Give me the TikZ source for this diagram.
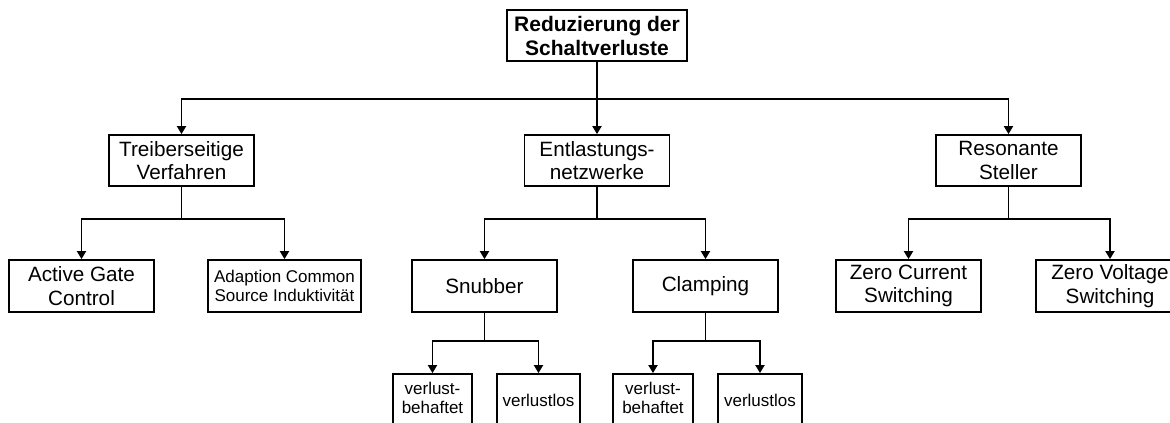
\documentclass[tikz,border=0pt]{standalone}
\usepackage{fontspec}
\setmainfont{Liberation Sans}
\usetikzlibrary{arrows.meta}
\begin{document}
\begin{tikzpicture}[x=1pt,y=-1pt,
  box/.style={draw,line width=1.8pt,inner sep=0pt,minimum width=145pt,minimum height=51pt,align=center,font=\fontsize{20.7}{23.5}\selectfont},
  smallbox/.style={box,font=\fontsize{17}{19.5}\selectfont},
  conn/.style={line width=1.8pt},
  arr/.style={conn,-{Triangle[length=8pt,width=9pt]}}]
\useasboundingbox (0,0) rectangle (1170,423);
\clip (0,0) rectangle (1170,423);
\fill[white] (0,0) rectangle (1170,423);
% nodes
\node[box,minimum width=180pt,font=\bfseries\fontsize{21}{24}\selectfont] (top) at (597,35.5) {Reduzierung der\\Schaltverluste};
\node[box] (treib) at (181.5,160.5) {Treiberseitige\\Verfahren};
\node[box] (entl) at (597,160.5) {Entlastungs-\\netzwerke};
\node[box] (reson) at (1008.5,160.5) {Resonante\\Steller};
\node[box,minimum height=52pt] (agc) at (81.5,286) {Active Gate\\Control};
\node[smallbox,minimum width=153pt,minimum height=52pt] (adapt) at (284.5,286) {Adaption Common\\Source Induktivität};
\node[box,minimum height=52pt] (snub) at (484.5,286) {Snubber};
\node[box,minimum height=52pt] (clamp) at (705.5,286) {Clamping};
\node[box,minimum height=52pt] (zcs) at (908.5,286) {Zero Current\\Switching};
\node[box,minimum width=148pt,minimum height=52pt] (zvs) at (1110,286) {Zero Voltage\\Switching};
\node[smallbox,minimum width=79pt,minimum height=60pt] (vb1) at (432.5,404) {};
\node[smallbox,minimum width=83pt,minimum height=60pt] (vl1) at (538.5,404) {};
\node[smallbox,minimum width=80pt,minimum height=60pt] (vb2) at (653,404) {};
\node[smallbox,minimum width=84pt,minimum height=60pt] (vl2) at (760,404) {};
\node[align=center,font=\fontsize{17}{19.5}\selectfont,inner sep=0pt] (vb1t) at (432.5,398) {verlust-\\behaftet};
\node[align=center,font=\fontsize{17}{19.5}\selectfont,inner sep=0pt] (vl1t) at (538.5,400) {verlustlos};
\node[align=center,font=\fontsize{17}{19.5}\selectfont,inner sep=0pt] (vb2t) at (653,398) {verlust-\\behaftet};
\node[align=center,font=\fontsize{17}{19.5}\selectfont,inner sep=0pt] (vl2t) at (760,400) {verlustlos};
% branch points
\coordinate (b0) at (597,99);
\coordinate (b1) at (181.5,219);
\coordinate (b2) at (597,219);
\coordinate (b3) at (1008.5,219);
\coordinate (b4) at (484.5,341);
\coordinate (b5) at (705.5,341);
% connectors
\draw[conn] (top.south) -- (b0);
\draw[arr] (b0) -| (treib.north);
\draw[arr] (b0) -- (entl.north);
\draw[arr] (b0) -| (reson.north);
\draw[conn] (treib.south) -- (b1);
\draw[arr] (b1) -| (agc.north);
\draw[arr] (b1) -| (adapt.north);
\draw[conn] (entl.south) -- (b2);
\draw[arr] (b2) -| (snub.north);
\draw[arr] (b2) -| (clamp.north);
\draw[conn] (reson.south) -- (b3);
\draw[arr] (b3) -| (zcs.north);
\draw[arr] (b3) -| (zvs.north);
\draw[conn] (snub.south) -- (b4);
\draw[arr] (b4) -| (vb1.north);
\draw[arr] (b4) -| (vl1.north);
\draw[conn] (clamp.south) -- (b5);
\draw[arr] (b5) -| (vb2.north);
\draw[arr] (b5) -| (vl2.north);
\end{tikzpicture}
\end{document}
